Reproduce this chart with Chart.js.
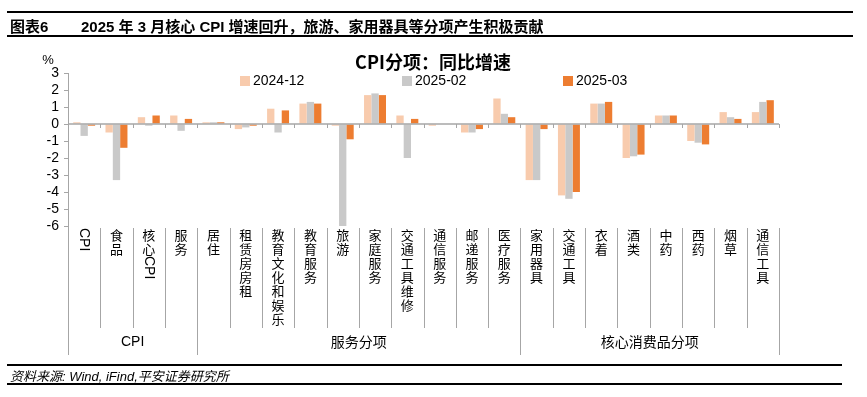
<!DOCTYPE html>
<html>
<head>
<meta charset="utf-8">
<script src="https://cdn.jsdelivr.net/npm/chart.js@4.4.1/dist/chart.umd.min.js"></script>
<style>
  body { margin: 0; background: #fff; width: 867px; height: 397px; position: relative; overflow: hidden;
         font-family: "Liberation Sans", Arial, "Noto Sans CJK SC", sans-serif; }
  #wrap { position: absolute; left: 0; top: 0; width: 867px; height: 397px; }
  .rule { position: absolute; height: 0; border-top: 2px solid #000; }
  #head { position: absolute; left: 10px; top: 15px; font-size: 15px; font-weight: bold; color: #000; white-space: nowrap; }
  #head span { position: absolute; left: 71px; top: 0; }
  #src { position: absolute; left: 10px; top: 366px; font-size: 13px; font-style: italic; color: #000; white-space: nowrap; }
</style>
</head>
<body>
<div id="wrap"><canvas id="c" width="867" height="397"></canvas></div>
<div class="rule" style="left:7px;width:846px;top:11px"></div>
<div class="rule" style="left:7px;width:846px;top:35px"></div>
<div id="head">图表6<span>2025 年 3 月核心 CPI 增速回升，旅游、家用器具等分项产生积极贡献</span></div>
<div class="rule" style="left:7px;width:835px;top:364px"></div>
<div class="rule" style="left:7px;width:835px;top:383px"></div>
<div id="src">资料来源: Wind, iFind,平安证券研究所</div>
<script>
// categories and values
const categories = ["CPI", "食品", "核心CPI", "服务", "居住", "租赁房房租", "教育文化和娱乐", "教育服务",
  "旅游", "家庭服务", "交通工具维修", "通信服务", "邮递服务", "医疗服务",
  "家用器具", "交通工具", "衣着", "酒类", "中药", "西药", "烟草", "通信工具"];
const dec2024 = [0.1, -0.5, 0.4, 0.5, 0.1, -0.3, 0.9, 1.2, -0.1, 1.7, 0.5, -0.1, -0.5, 1.5,
  -3.3, -4.2, 1.2, -2.0, 0.5, -1.0, 0.7, 0.7];
const feb2025 = [-0.7, -3.3, -0.1, -0.4, 0.1, -0.2, -0.5, 1.3, -6.1, 1.8, -2.0, 0.0, -0.5, 0.6,
  -3.3, -4.4, 1.2, -1.9, 0.5, -1.1, 0.4, 1.3];
const mar2025 = [-0.1, -1.4, 0.5, 0.3, 0.1, -0.1, 0.8, 1.2, -0.9, 1.7, 0.3, 0.0, -0.3, 0.4,
  -0.3, -4.0, 1.3, -1.8, 0.5, -1.2, 0.3, 1.4];
const seriesNames = ["2024-12", "2025-02", "2025-03"];
const groups = [
  { name: "CPI", from: 0, to: 3 },
  { name: "服务分项", from: 4, to: 13 },
  { name: "核心消费品分项", from: 14, to: 21 }
];

const colors = ["#F8CBAD", "#C9C9C9", "#ED7D31"];
const axisGray = "#A6A6A6";
const cjk = '"Noto Sans CJK SC", sans-serif';
const latin = '"Liberation Sans", Arial, sans-serif';

const labelTop = 228;   // first line of category labels
const lineStep = 14;
const sepBottom = 328;
const groupBottom = 355;

const decor = {
  id: "decor",
  afterDatasetsDraw(chart) {
    const ctx = chart.ctx;
    const x = chart.scales.x, y = chart.scales.y;
    const area = chart.chartArea;
    const half = (x.getPixelForValue(1) - x.getPixelForValue(0)) / 2;
    const y0 = y.getPixelForValue(0);
    ctx.save();

    // zero line with tick marks
    ctx.strokeStyle = axisGray;
    ctx.lineWidth = 1.5;
    ctx.beginPath();
    ctx.moveTo(area.left, y0);
    ctx.lineTo(area.right, y0);
    ctx.stroke();
    ctx.lineWidth = 1;
    for (let i = 1; i <= categories.length; i++) {
      const px = Math.round(x.getPixelForValue(i) - half) + 0.5;
      ctx.beginPath();
      ctx.moveTo(px, y0);
      ctx.lineTo(px, y0 + 4);
      ctx.stroke();
    }

    // left axis extension down through label area
    ctx.beginPath();
    ctx.moveTo(Math.round(area.left) + 0.5, area.bottom);
    ctx.lineTo(Math.round(area.left) + 0.5, groupBottom);
    ctx.stroke();

    // separators between categories
    for (let i = 1; i <= categories.length; i++) {
      const px = Math.round(x.getPixelForValue(i) - half) + 0.5;
      const isGroupEdge = groups.some(g => g.to === i - 1);
      ctx.beginPath();
      ctx.moveTo(px, area.bottom + 2);
      ctx.lineTo(px, isGroupEdge ? groupBottom : sepBottom);
      ctx.stroke();
    }

    // vertical category labels: CJK chars upright, latin runs rotated
    ctx.fillStyle = "#000";
    ctx.textAlign = "center";
    ctx.textBaseline = "middle";
    categories.forEach((label, i) => {
      const cx = x.getPixelForValue(i);
      let cy = labelTop;
      const runs = label.match(/[A-Za-z]+|[^A-Za-z]/g);
      runs.forEach(run => {
        if (/^[A-Za-z]+$/.test(run)) {
          ctx.font = "14px " + latin;
          const w = ctx.measureText(run).width;
          ctx.save();
          ctx.translate(cx, cy + w / 2);
          ctx.rotate(Math.PI / 2);
          ctx.fillText(run, 0, 0);
          ctx.restore();
          cy += w + 1;
        } else {
          ctx.font = "13px " + cjk;
          ctx.fillText(run, cx, cy + lineStep / 2);
          cy += lineStep;
        }
      });
    });

    // group labels
    groups.forEach(g => {
      const gx = (x.getPixelForValue(g.from) + x.getPixelForValue(g.to)) / 2;
      ctx.font = (g.name === "CPI" ? "14px " + latin : "14px " + cjk);
      ctx.fillText(g.name, gx, 342);
    });

    // unit label
    ctx.font = "13px " + latin;
    ctx.fillText("%", 48, 60);

    // title
    ctx.font = "bold 18px " + cjk;
    ctx.fillText("CPI分项：同比增速", 433, 62);

    // legend
    const legendX = [240, 402, 563];
    ctx.textAlign = "left";
    chart.data.datasets.forEach((ds, i) => {
      ctx.fillStyle = ds.backgroundColor;
      ctx.fillRect(legendX[i], 76, 10, 10);
      ctx.fillStyle = "#000";
      ctx.font = "14px " + latin;
      ctx.fillText(ds.label, legendX[i] + 13, 81);
    });
    ctx.restore();
  }
};

new Chart(document.getElementById("c"), {
  type: "bar",
  data: {
    labels: categories,
    datasets: [
      { label: seriesNames[0], data: dec2024, backgroundColor: colors[0] },
      { label: seriesNames[1], data: feb2025, backgroundColor: colors[1] },
      { label: seriesNames[2], data: mar2025, backgroundColor: colors[2] }
    ]
  },
  options: {
    responsive: false,
    animation: false,
    layout: { padding: { left: 0, right: 88, top: 73, bottom: 171 } },
    datasets: { bar: { categoryPercentage: 0.68, barPercentage: 1.0 } },
    plugins: { legend: { display: false }, title: { display: false }, tooltip: { enabled: false } },
    scales: {
      x: { display: false },
      y: {
        min: -6, max: 3,
        afterFit(scale) { scale.width = 68; },
        ticks: { stepSize: 1, autoSkip: false, padding: 5, color: "#000", font: { family: latin, size: 14 } },
        grid: { drawOnChartArea: false, drawTicks: true, tickLength: 4, color: axisGray },
        border: { display: true, color: axisGray, width: 1 }
      }
    }
  },
  plugins: [decor]
});
</script>
</body>
</html>
